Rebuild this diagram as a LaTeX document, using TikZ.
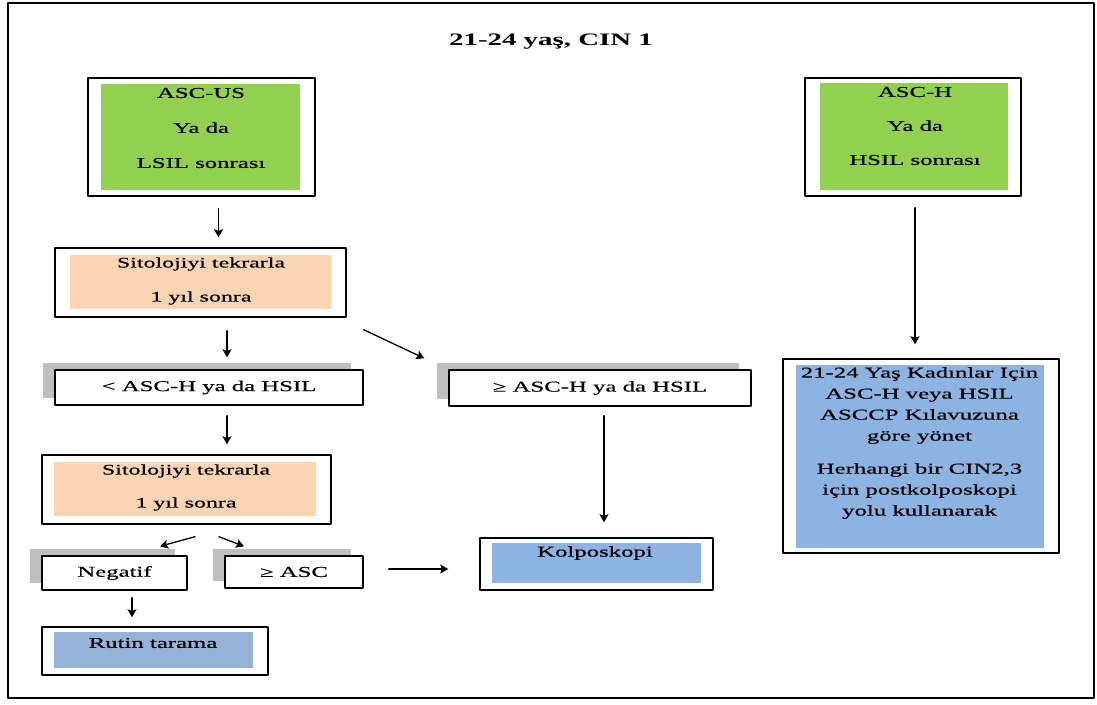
\documentclass[tikz,border=0pt]{standalone}
\usepackage{fontspec}
\setmainfont{Liberation Serif}[FakeStretch=1.65,UprightFeatures={FakeBold=0.6}]
\usetikzlibrary{arrows.meta,calc,shadows}
\definecolor{grn}{HTML}{92D050}
\definecolor{peach}{HTML}{FBD4B4}
\definecolor{lblue}{HTML}{8DB3E2}
\definecolor{rblue}{HTML}{95B3D7}
\definecolor{shade}{HTML}{BFBFBF}
\tikzset{
	outbox/.style={draw,line width=1.4pt,fill=white,inner sep=0pt},
	shbox/.style={outbox,general shadow={fill=shade,shadow xshift=-12pt,shadow yshift=7.5pt}},
	inbox/.style={inner sep=0pt},
	txt/.style={align=center,inner sep=0pt},
	arr/.style={->,line width=1.3pt},
}
\begin{document}
\begin{tikzpicture}[x=1pt,y=-1pt,font=\fontsize{15}{18}\selectfont,line join = round, line cap = round, >= {Stealth[length=8pt,width=9pt,inset=1.5pt]}]
			\useasboundingbox (0,0) rectangle (1097,704);
			\draw[line width=2.8pt] (8,3) rectangle (1094,698);
			\node[font=\fontsize{17.5}{20}\selectfont\bfseries] (title) at (551,42) {21-24 yaş, CIN 1};
			% left column
			\node[outbox,minimum width=227pt,minimum height=118pt] (ascus) at (201.5,137) {};
			\node[inbox,fill=grn,minimum width=199pt,minimum height=106pt] (ascus-in) at (200.5,137) {};
			\node[txt,font=\fontsize{15}{35}\selectfont] (ascus-t) at (201,128) {ASC-US\\Ya da\\LSIL sonrası};
			\node[outbox,minimum width=291pt,minimum height=69pt] (sit1) at (200.5,282.5) {};
			\node[inbox,fill=peach,minimum width=261pt,minimum height=54pt] (sit1-in) at (200.5,282) {};
			\node[txt,font=\fontsize{14.5}{34}\selectfont] (sit1-t) at (201,281) {Sitolojiyi tekrarla\\1 yıl sonra};
			\node[shbox,minimum width=308pt,minimum height=35pt] (lt) at (209,387.5) {< ASC-H ya da HSIL};
			\node[outbox,minimum width=289pt,minimum height=69pt] (sit2) at (186.5,489.5) {};
			\node[inbox,fill=peach,minimum width=262pt,minimum height=54pt] (sit2-in) at (185,489) {};
			\node[txt,font=\fontsize{14.5}{33}\selectfont] (sit2-t) at (186,487.5) {Sitolojiyi tekrarla\\1 yıl sonra};
			\node[shbox,minimum width=145pt,minimum height=34pt] (neg) at (114.5,573) {Negatif};
			\node[shbox,minimum width=138pt,minimum height=32pt] (geasc) at (294,572) {≥ ASC};
			\node[outbox,minimum width=226pt,minimum height=48pt] (rutin) at (155,651) {};
			\node[inbox,fill=rblue,minimum width=199pt,minimum height=36pt] (rutin-in) at (153.5,650) {};
			\node[txt] (rutin-t) at (153,643) {Rutin tarama};
			% middle column
			\node[shbox,minimum width=302pt,minimum height=36pt] (ge) at (600,388) {≥ ASC-H ya da HSIL};
			\node[outbox,minimum width=233pt,minimum height=52pt] (kolp) at (596.5,564) {};
			\node[inbox,fill=lblue,minimum width=209pt,minimum height=40pt] (kolp-in) at (596.5,563) {};
			\node[txt] (kolp-t) at (595,553) {Kolposkopi};
			% right column
			\node[outbox,minimum width=216pt,minimum height=118pt] (asch) at (913,137) {};
			\node[inbox,fill=grn,minimum width=188pt,minimum height=107pt] (asch-in) at (914,136.5) {};
			\node[txt,font=\fontsize{15}{34}\selectfont] (asch-t) at (915,126) {ASC-H\\Ya da\\HSIL sonrası};
			\node[outbox,minimum width=276pt,minimum height=194pt] (mgmt) at (921,456) {};
			\node[inbox,fill=lblue,minimum width=248pt,minimum height=183pt] (mgmt-in) at (920,456.5) {};
			\node[txt,font=\fontsize{15}{21}\selectfont] (mgmt-t) at (919.5,443) {21-24 Yaş Kadınlar Için\\ASC-H veya HSIL\\ASCCP Kılavuzuna\\göre yönet\\[12pt]Herhangi bir CIN2,3\\için postkolposkopi\\yolu kullanarak};
			% arrows
			\draw[arr] ($(ascus.south)+(17,12)$) -- ($(sit1.north)+(18,-10)$);
			\draw[arr] ($(sit1.south)+(26.5,13)$) -- ($(lt.north)+(18,-12)$);
			\draw[arr] ($(sit1.south east)+(17,12)$) -- ($(ge.north west)+(-24,-11)$);
			\draw[arr] ($(lt.south)+(18,10)$) -- ($(sit2.north)+(40.5,-10)$);
			\draw[arr] ($(ge.south)+(4,9)$) -- ($(kolp.north)+(7.5,-15)$);
			\draw[arr] ($(asch.south)+(2,11)$) -- ($(mgmt.north)+(-6,-14)$);
			\draw[arr] ($(sit2.south)+(8.5,12)$) -- ($(neg.north)+(45.5,-9)$);
			\draw[arr] ($(sit2.south)+(32.5,12)$) -- ($(geasc.north)+(-50,-9)$);
			\draw[arr] ($(neg.south)+(17.5,7)$) -- ($(rutin.north)+(-23,-9)$);
			\draw[arr] ($(geasc.east)+(25,-3)$) -- ($(kolp.west)+(-31,5)$);
		\end{tikzpicture}
\end{document}
